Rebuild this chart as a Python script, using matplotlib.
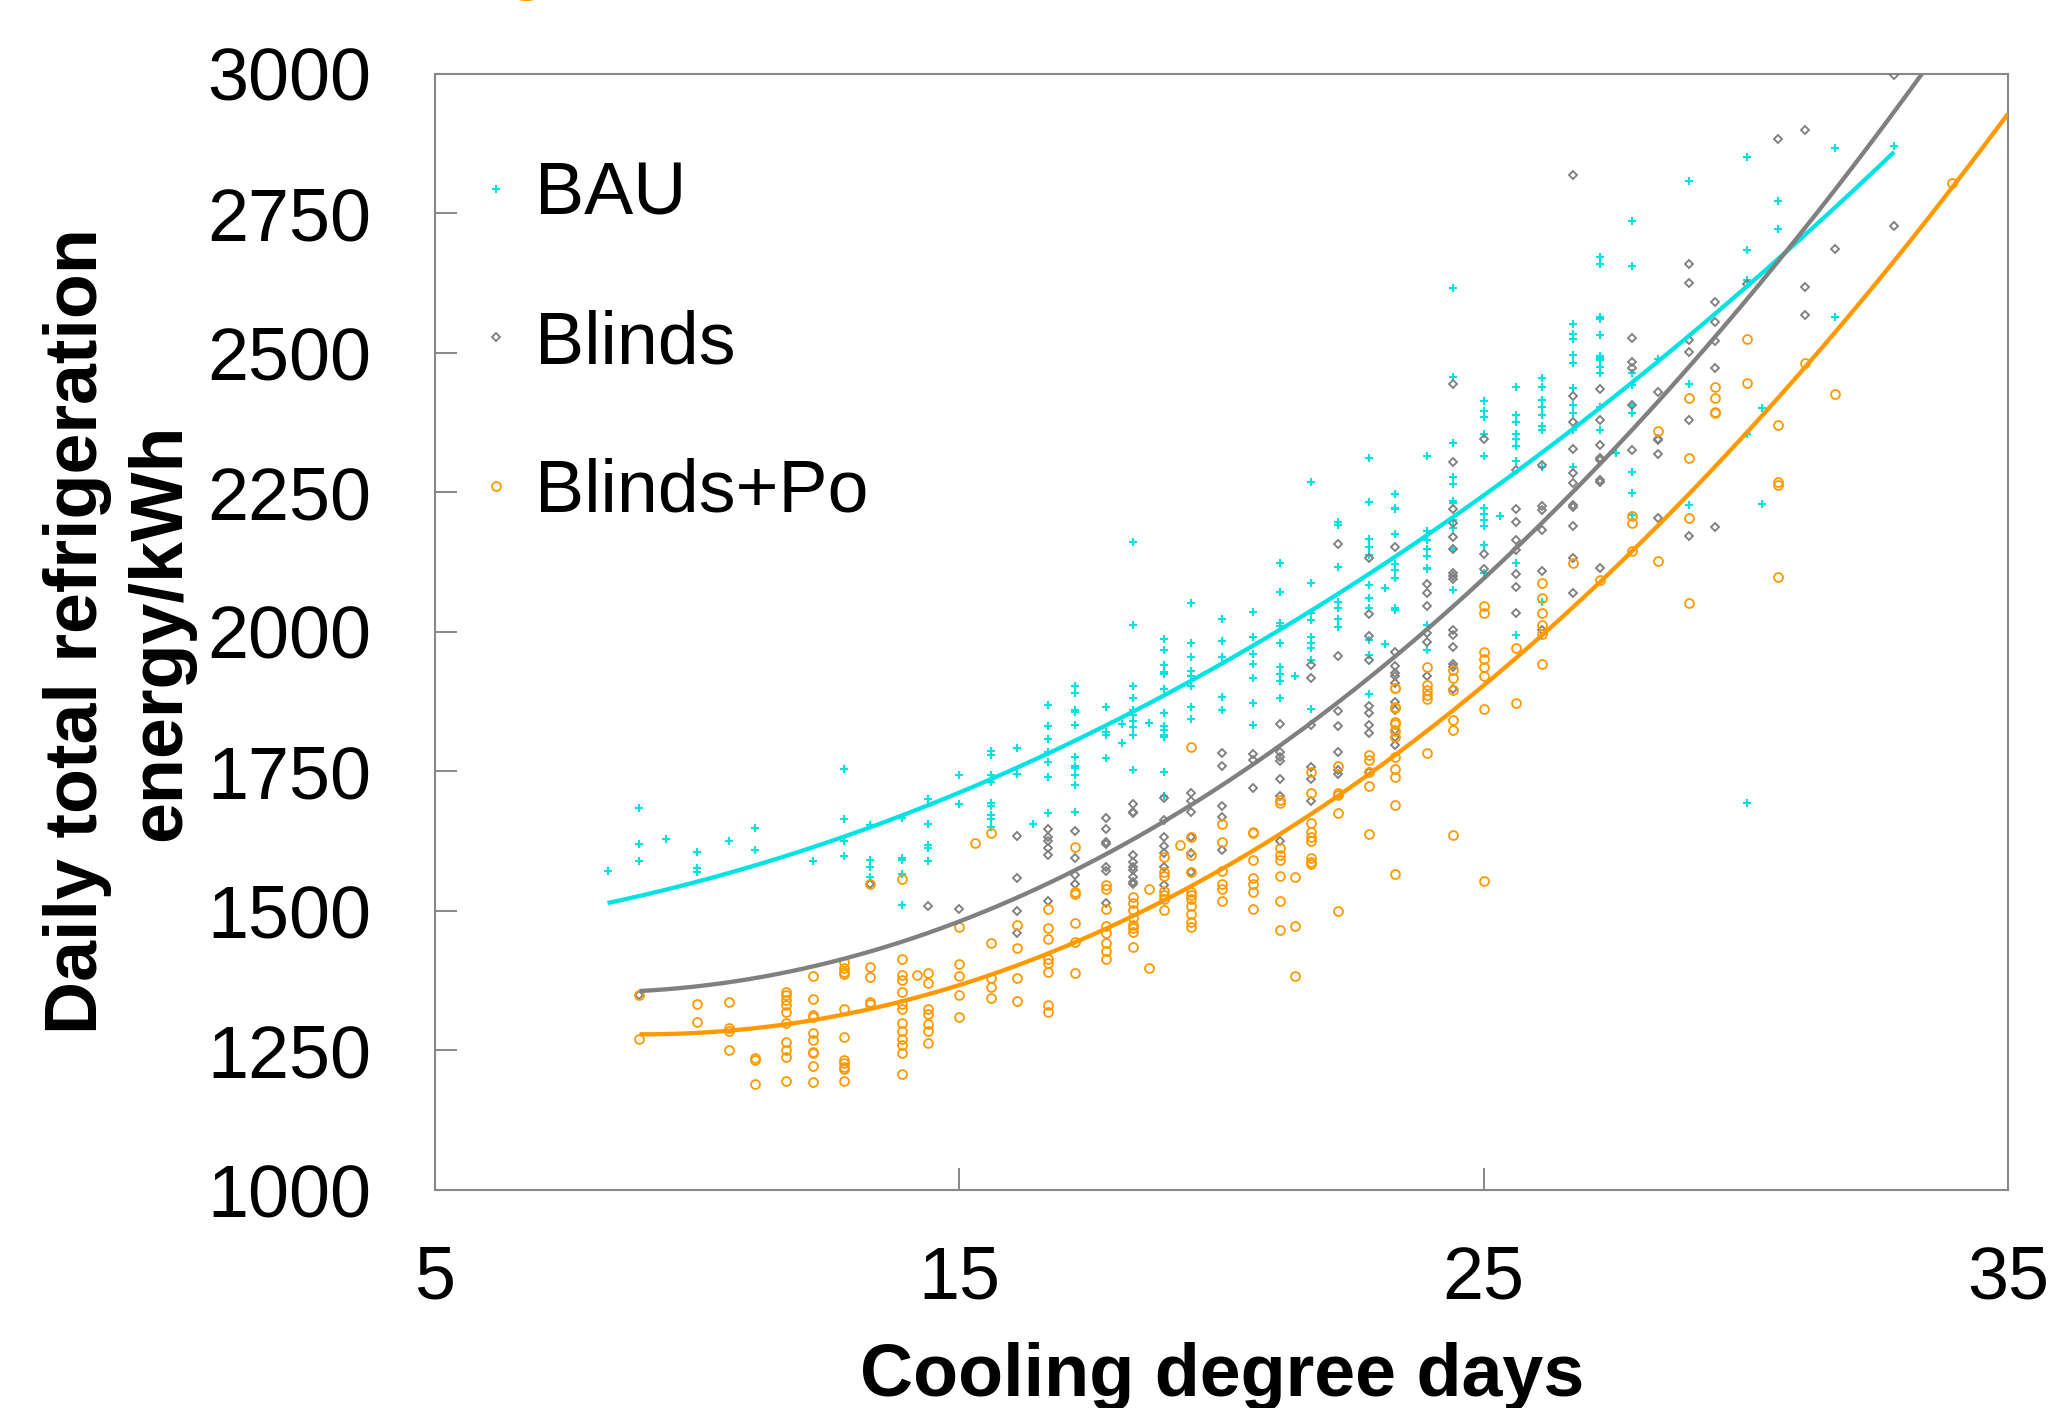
import numpy as np
import matplotlib
matplotlib.use("Agg")
import matplotlib.pyplot as plt
from matplotlib.lines import Line2D

plt.rcParams['font.family'] = ['Liberation Sans', 'DejaVu Sans']

# ---------------- data ----------------
bau_cdd = [8.29,
           8.90, 8.90, 8.90, 9.40, 10.0, 10.0, 10.0, 10.60, 11.10, 11.10, 12.20,
           12.80, 12.80, 12.80, 12.80, 13.30, 13.30, 13.30, 13.30,
           13.90, 13.90, 13.90, 13.90, 13.90, 14.40, 14.40, 14.40, 14.40, 14.40,
           15.0, 15.0,
           15.60, 15.60, 15.60, 15.60, 15.60, 15.60, 15.60, 15.60, 15.60,
           16.10, 16.10, 16.40,
           16.70, 16.70, 16.70, 16.70, 16.70, 16.70, 16.70,
           17.21, 17.21, 17.21, 17.21, 17.21, 17.21, 17.21, 17.21, 17.21, 17.21, 17.21,
           17.80, 17.80, 17.80, 17.80, 18.10, 18.10,
           18.31, 18.31, 18.31, 18.31, 18.31, 18.31, 18.31, 18.31, 18.31, 18.31, 18.61,
           18.91, 18.91, 18.91, 18.91, 18.91, 18.91, 18.91, 18.91, 18.91, 18.91, 18.91, 18.91, 18.91,
           19.41, 19.41, 19.41, 19.41, 19.41, 19.41, 19.41, 19.41,
           20.01, 20.01, 20.01, 20.01, 20.01,
           20.61, 20.61, 20.61, 20.61, 20.61, 20.61, 20.61,
           21.11, 21.11, 21.11, 21.11, 21.11, 21.11, 21.11, 21.11, 21.11, 21.41,
           21.71, 21.71, 21.71, 21.71, 21.71, 21.71, 21.71, 21.71, 21.71,
           22.22, 22.22, 22.22, 22.22, 22.22, 22.22, 22.22,
           22.81, 22.81, 22.81, 22.81, 22.81, 22.81, 22.81, 22.81, 22.81, 22.81, 22.81,
           23.11, 23.11,
           23.31, 23.31, 23.31, 23.31, 23.31, 23.31, 23.31, 23.31, 23.31,
           23.91, 23.91, 23.91, 23.91, 23.91, 23.91, 23.91, 23.91, 23.91,
           24.42, 24.42, 24.42, 24.42, 24.42, 24.42, 24.42, 24.42, 24.42, 24.42, 24.42,
           25.01, 25.01, 25.01, 25.01, 25.01, 25.01, 25.01, 25.01, 25.01, 25.01, 25.01, 25.31,
           25.62, 25.62, 25.62, 25.62, 25.62, 25.62, 25.62, 25.62, 25.62,
           26.12, 26.12, 26.12, 26.12, 26.12, 26.12, 26.12, 26.12, 26.12,
           26.71, 26.71, 26.71, 26.71, 26.71, 26.71, 26.71, 26.71, 26.71, 26.71,
           27.22, 27.22, 27.22, 27.22, 27.22, 27.22, 27.22, 27.22, 27.22, 27.22, 27.22, 27.22,
           27.52,
           27.82, 27.82, 27.82, 27.82, 27.82, 27.82, 27.82, 27.82, 27.82,
           28.32, 28.92, 28.92, 28.92,
           30.02, 30.02, 30.02, 30.02, 30.02, 30.31, 30.31,
           30.62, 30.62, 31.71, 31.71, 32.83]
bau_kwh = [1571,
           1685, 1620, 1590, 1629, 1605, 1577, 1570, 1625, 1648, 1609, 1590,
           1755, 1664, 1625, 1599, 1653, 1592, 1579, 1560,
           1667, 1595, 1591, 1566, 1510, 1700, 1656, 1618, 1613, 1589,
           1743, 1692,
           1786, 1779, 1743, 1731, 1693, 1688, 1672, 1665, 1650,
           1792, 1746, 1656,
           1869, 1831, 1808, 1784, 1766, 1739, 1675,
           1903, 1890, 1859, 1857, 1833, 1775, 1760, 1756, 1743, 1726, 1678,
           1866, 1821, 1815, 1773, 1835, 1800,
           2160, 2012, 1903, 1881, 1860, 1851, 1841, 1830, 1815, 1752, 1836,
           1987, 1968, 1940, 1928, 1925, 1897, 1855, 1831, 1824, 1815, 1811, 1748, 1705,
           2051, 1979, 1954, 1930, 1920, 1902, 1865, 1843,
           2023, 1983, 1954, 1883, 1859,
           2035, 1991, 1961, 1942, 1918, 1873, 1833,
           2124, 2071, 2015, 2010, 1980, 1937, 1925, 1911, 1881, 1921,
           2268, 2087, 2033, 2021, 1991, 1979, 1970, 1949, 1861,
           2197, 2191, 2116, 2054, 2042, 2022, 2009,
           2311, 2233, 2166, 2152, 2138, 2084, 2060, 2042, 1985, 1958, 1888,
           2079, 1978,
           2246, 2222, 2219, 2175, 2122, 2111, 2097, 2042, 2039,
           2315, 2181, 2164, 2149, 2135, 2115, 2112, 2012, 1968,
           2615, 2456, 2339, 2277, 2265, 2234, 2230, 2200, 2185, 2149, 2075,
           2414, 2396, 2385, 2355, 2315, 2221, 2211, 2201, 2189, 2155, 2105, 2208,
           2439, 2388, 2376, 2354, 2345, 2332, 2305, 2123, 1995,
           2454, 2439, 2415, 2402, 2388, 2369, 2361, 2296, 2054,
           2551, 2533, 2524, 2496, 2482, 2437, 2406, 2391, 2361, 2296,
           2672, 2658, 2563, 2560, 2532, 2494, 2490, 2486, 2475, 2464, 2403, 2361,
           2320,
           2736, 2655, 2464, 2442, 2406, 2392, 2287, 2249, 2209,
           2489, 2808, 2443, 2227,
           2850, 2683, 2630, 2355, 1694, 2401, 2229,
           2772, 2722, 2867, 2563, 2870]

blinds_cdd = [8.90, 13.30, 14.40, 15.0,
              16.10, 16.10, 16.10, 16.10,
              16.70, 16.70, 16.70, 16.70, 16.70, 16.70,
              17.21, 17.21, 17.21, 17.21,
              17.80, 17.80, 17.80, 17.80, 17.80, 17.80, 17.80,
              18.31, 18.31, 18.31, 18.31, 18.31, 18.31, 18.31, 18.31, 18.31, 18.31,
              18.91, 18.91, 18.91, 18.91, 18.91, 18.91, 18.91,
              19.41, 19.41, 19.41, 19.41, 19.41, 19.41,
              20.01, 20.01, 20.01, 20.01, 20.01,
              20.61, 20.61, 20.61,
              21.11, 21.11, 21.11, 21.11, 21.11, 21.11, 21.11,
              21.71, 21.71, 21.71, 21.71, 21.71, 21.71,
              22.22, 22.22, 22.22, 22.22, 22.22, 22.22, 22.22,
              22.81, 22.81, 22.81, 22.81, 22.81, 22.81, 22.81, 22.81, 22.81,
              23.31, 23.31, 23.31, 23.31, 23.31, 23.31, 23.31, 23.31, 23.31, 23.31, 23.31,
              23.91, 23.91, 23.91, 23.91, 23.91, 23.91,
              24.42, 24.42, 24.42, 24.42, 24.42, 24.42, 24.42, 24.42, 24.42, 24.42, 24.42, 24.42, 24.42, 24.42, 24.42,
              25.01, 25.01, 25.01,
              25.62, 25.62, 25.62, 25.62, 25.62, 25.62, 25.62, 25.62,
              26.12, 26.12, 26.12, 26.12, 26.12, 26.12,
              26.71, 26.71, 26.71, 26.71, 26.71, 26.71, 26.71, 26.71, 26.71, 26.71, 26.71,
              27.22, 27.22, 27.22, 27.22, 27.22, 27.22, 27.22, 27.22,
              27.82, 27.82, 27.82, 27.82, 27.82,
              28.32, 28.32, 28.32, 28.32, 28.32,
              28.92, 28.92, 28.92, 28.92, 28.92, 28.92,
              29.41, 29.41, 29.41, 29.41, 29.41,
              30.02, 30.62, 31.12, 31.12, 31.12, 31.71, 32.83, 32.83]
blinds_kwh = [1350, 1549, 1508, 1503,
              1635, 1558, 1500, 1460,
              1646, 1633, 1625, 1612, 1600, 1518,
              1643, 1595, 1564, 1549,
              1667, 1647, 1623, 1620, 1579, 1572, 1515,
              1692, 1678, 1675, 1600, 1588, 1579, 1573, 1561, 1552, 1549,
              1703, 1662, 1633, 1616, 1603, 1579, 1546,
              1711, 1696, 1677, 1633, 1603, 1570,
              1782, 1760, 1688, 1669, 1609,
              1781, 1771, 1720,
              1835, 1785, 1776, 1769, 1737, 1706, 1626,
              1940, 1917, 1833, 1758, 1737, 1696,
              2158, 1957, 1858, 1832, 1785, 1752, 1746,
              2133, 2031, 1992, 1949, 1867, 1854, 1833, 1819, 1748,
              2151, 1963, 1938, 1927, 1920, 1908, 1875, 1860, 1824, 1812, 1797,
              2086, 2069, 2046, 1997, 1982, 1920,
              2443, 2304, 2220, 2194, 2170, 2148, 2105, 2100, 2094, 2003, 1994, 1973, 1943, 1937, 1897,
              2346, 2139, 2112,
              2290, 2219, 2197, 2164, 2146, 2103, 2080, 2033,
              2299, 2225, 2218, 2183, 2109, 2003,
              2818, 2422, 2376, 2327, 2284, 2266, 2227, 2223, 2189, 2133, 2069,
              2434, 2380, 2335, 2312, 2308, 2272, 2269, 2115,
              2526, 2483, 2472, 2406, 2326,
              2430, 2345, 2344, 2319, 2204,
              2658, 2625, 2523, 2502, 2379, 2172,
              2590, 2554, 2521, 2472, 2187,
              2623, 2883, 2899, 2618, 2568, 2685, 2997, 2726]

po_cdd = [8.90, 8.90, 10.0, 10.0, 10.60, 10.60, 10.60, 10.60, 11.10, 11.10, 11.10,
          11.70, 11.70, 11.70, 11.70, 11.70, 11.70, 11.70, 11.70, 11.70, 11.70,
          12.20, 12.20, 12.20, 12.20, 12.20, 12.20, 12.20, 12.20, 12.20, 12.20,
          12.80, 12.80, 12.80, 12.80, 12.80, 12.80, 12.80, 12.80, 12.80, 12.80, 12.80,
          13.30, 13.30, 13.30, 13.30, 13.30,
          13.90, 13.90, 13.90, 13.90, 13.90, 13.90, 13.90, 13.90, 13.90, 13.90, 13.90, 13.90, 13.90,
          14.20, 14.40, 14.40, 14.40, 14.40, 14.40, 14.40, 14.40,
          15.0, 15.0, 15.0, 15.0, 15.0, 15.30,
          15.60, 15.60, 15.60, 15.60, 15.60,
          16.10, 16.10, 16.10, 16.10,
          16.70, 16.70, 16.70, 16.70, 16.70, 16.70, 16.70, 16.70,
          17.21, 17.21, 17.21, 17.21, 17.21, 17.21,
          17.80, 17.80, 17.80, 17.80, 17.80, 17.80, 17.80, 17.80,
          18.31, 18.31, 18.31, 18.31, 18.31, 18.31, 18.31, 18.31, 18.61, 18.61,
          18.91, 18.91, 18.91, 18.91, 18.91, 18.91, 18.91, 19.21,
          19.41, 19.41, 19.41, 19.41, 19.41, 19.41, 19.41, 19.41, 19.41, 19.41, 19.41,
          20.01, 20.01, 20.01, 20.01, 20.01, 20.01,
          20.61, 20.61, 20.61, 20.61, 20.61, 20.61, 20.61,
          21.11, 21.11, 21.11, 21.11, 21.11, 21.11, 21.11, 21.11,
          21.41, 21.41, 21.41,
          21.71, 21.71, 21.71, 21.71, 21.71, 21.71, 21.71, 21.71, 21.71,
          22.22, 22.22, 22.22, 22.22, 22.22,
          22.81, 22.81, 22.81, 22.81, 22.81,
          23.31, 23.31, 23.31, 23.31, 23.31, 23.31, 23.31, 23.31, 23.31, 23.31, 23.31, 23.31, 23.31,
          23.91, 23.91, 23.91, 23.91, 23.91, 23.91,
          24.42, 24.42, 24.42, 24.42, 24.42, 24.42,
          25.01, 25.01, 25.01, 25.01, 25.01, 25.01, 25.01, 25.01,
          25.62, 25.62,
          26.12, 26.12, 26.12, 26.12, 26.12, 26.12,
          26.71, 27.22, 27.82, 27.82, 27.82, 28.32, 28.32,
          28.92, 28.92, 28.92, 28.92, 29.41, 29.41, 29.41, 29.41,
          30.02, 30.02, 30.62, 30.62, 30.62, 30.62, 31.12, 31.71, 33.93]
po_kwh = [1350, 1271, 1333, 1301, 1337, 1291, 1285, 1250, 1236, 1233, 1189,
          1354, 1349, 1340, 1331, 1318, 1299, 1266, 1251, 1238, 1196,
          1384, 1342, 1314, 1310, 1282, 1268, 1248, 1246, 1222, 1193,
          1408, 1397, 1391, 1387, 1324, 1274, 1232, 1227, 1221, 1216, 1196,
          1549, 1400, 1382, 1337, 1334,
          1557, 1413, 1386, 1376, 1354, 1334, 1325, 1299, 1285, 1270, 1260, 1245, 1208,
          1386, 1388, 1371, 1324, 1316, 1297, 1285, 1263,
          1472, 1404, 1383, 1349, 1310, 1621,
          1640, 1443, 1379, 1364, 1344,
          1475, 1434, 1380, 1339,
          1504, 1470, 1449, 1414, 1406, 1390, 1331, 1319,
          1615, 1534, 1531, 1478, 1445, 1389,
          1546, 1540, 1503, 1473, 1460, 1442, 1428, 1413,
          1525, 1514, 1502, 1487, 1475, 1469, 1463, 1435, 1539, 1397,
          1597, 1570, 1562, 1536, 1528, 1522, 1502, 1618,
          1794, 1633, 1600, 1570, 1534, 1528, 1521, 1509, 1494, 1480, 1471,
          1656, 1624, 1572, 1549, 1540, 1517,
          1642, 1639, 1592, 1558, 1549, 1534, 1503,
          1699, 1694, 1612, 1600, 1592, 1562, 1517, 1466,
          1561, 1473, 1383,
          1748, 1712, 1658, 1641, 1633, 1626, 1594, 1588, 1584,
          1760, 1711, 1708, 1675, 1500,
          1779, 1770, 1749, 1723, 1637,
          1900, 1899, 1865, 1863, 1839, 1835, 1823, 1812, 1775, 1754, 1739, 1690, 1566,
          1936, 1905, 1896, 1887, 1880, 1783,
          1931, 1918, 1895, 1842, 1824, 1636,
          2046, 2033, 1963, 1952, 1936, 1920, 1861, 1554,
          1971, 1873,
          2088, 2061, 2033, 2012, 1996, 1942,
          2124, 2093, 2208, 2194, 2145, 2360, 2127,
          2418, 2311, 2203, 2052, 2439, 2419, 2394, 2391,
          2525, 2445, 2370, 2268, 2262, 2098, 2481, 2426, 2804]

series_names = ['BAU', 'Blinds', 'Blinds+Po']
series_colors = ['#00E3E3', '#808080', '#FF9900']
x_ticks = [5, 15, 25, 35]
y_ticks = [1000, 1250, 1500, 1750, 2000, 2250, 2500, 2750, 3000]
x_label = 'Cooling degree days'
y_label_lines = ['Daily total refrigeration', 'energy/kWh']

# ---------------- figure ----------------
W, H = 2061, 1408
fig = plt.figure(figsize=(W / 100, H / 100), dpi=100)
ax = fig.add_axes([435 / W, 1 - 1190 / H, (2008 - 435) / W, (1190 - 73.5) / H])

FS = 53
spine_c = '#888888'

plus_kw = dict(linestyle='none', marker='+', ms=6.3, mew=1.5, color=series_colors[0])
diam_kw = dict(linestyle='none', marker='D', ms=4.0, mew=1.35, mfc='none', mec=series_colors[1])
circ_kw = dict(linestyle='none', marker='o', ms=6.4, mew=1.3, mfc='none', mec=series_colors[2])

# scatter markers
ax.plot(bau_cdd, bau_kwh, zorder=3, **plus_kw)
ax.plot(blinds_cdd, blinds_kwh, zorder=3, **diam_kw)
ax.plot(po_cdd, po_kwh, zorder=3, **circ_kw)

# polynomial (order 2) trend lines fitted to each series
def trend(xs, ys, x_end):
    c = np.polyfit(xs, ys, 2)
    xx = np.linspace(min(xs), x_end, 300)
    return xx, np.polyval(c, xx)

xx, yy = trend(bau_cdd, bau_kwh, max(bau_cdd))
ax.plot(xx, yy, color=series_colors[0], lw=3.1, zorder=4, solid_capstyle='butt')
xx, yy = trend(blinds_cdd, blinds_kwh, 35)
ax.plot(xx, yy, color=series_colors[1], lw=3.1, zorder=4, solid_capstyle='butt')
xx, yy = trend(po_cdd, po_kwh, 35)
ax.plot(xx, yy, color=series_colors[2], lw=3.1, zorder=4, solid_capstyle='butt')

ax.set_xlim(5, 35)
ax.set_ylim(1000, 3000)
ax.set_xticks(x_ticks)
ax.set_yticks(y_ticks)
ax.set_xticklabels([str(v) for v in x_ticks])
ax.set_yticklabels([str(v) for v in y_ticks])

for s in ax.spines.values():
    s.set_color(spine_c)
    s.set_linewidth(1.5)
ax.tick_params(axis='both', direction='in', length=16, width=1.4, color=spine_c,
               labelsize=FS, labelcolor='black')
ax.tick_params(axis='x', pad=39.5)
ax.tick_params(axis='y', pad=46)

# legend
handles = [Line2D([], [], **plus_kw), Line2D([], [], **diam_kw), Line2D([], [], **circ_kw)]
leg = ax.legend(handles, series_names, loc='upper left', bbox_to_anchor=(0.025, 0.922),
                frameon=False, fontsize=FS, handlelength=0.6, handletextpad=0.22,
                labelspacing=1.08, borderpad=0, borderaxespad=0)

# axis titles
fig.text(1222 / W, 1 - 1396 / H, x_label, ha='center', va='baseline',
         fontsize=FS, fontweight='bold')
fig.text(97 / W, 1 - 631 / H, y_label_lines[0], rotation=90, rotation_mode='anchor',
         ha='center', va='baseline', fontsize=FS, fontweight='bold')
fig.text(180 / W, 1 - 632 / H, y_label_lines[1], rotation=90, rotation_mode='anchor',
         ha='center', va='baseline', fontsize=FS, fontweight='bold')

# clipped orange title glyph at the very top of the image
fig.text(527 / W, 1 + 14 / H, 'g', ha='center', va='baseline', fontsize=FS,
         fontweight='bold', color=series_colors[2])

fig.savefig('out.png', dpi=100)
